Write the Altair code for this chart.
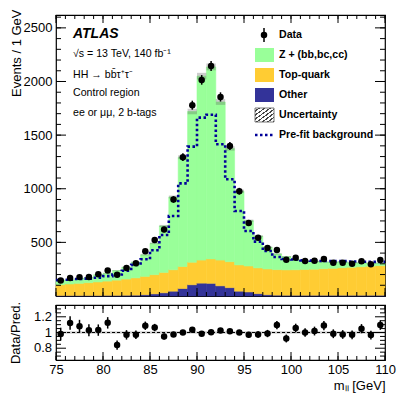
import altair as alt
import pandas as pd
import numpy as np

# ---------------- data ----------------
bin_low = list(range(75, 110))  # 1 GeV bins, 75-110
data_counts = [145, 168, 176, 177, 203, 238, 199, 260, 306, 417, 522, 620, 900, 1294,
               1779, 2015, 2145, 1856, 1399, 977, 681, 544, 448, 429, 339, 357, 326,
               329, 345, 311, 311, 301, 324, 296, 336]
z_hf = [43, 38, 45, 48, 66, 73, 89, 110, 146, 201, 292, 433, 678, 1019, 1405, 1715,
        1790, 1474, 1056, 687, 422, 296, 202, 146, 123, 93, 79, 73, 63, 58, 56, 42, 36,
        28, 24]
top_quark = [100, 107, 113, 119, 126, 133, 142, 151, 161, 171, 179, 190, 200, 205, 210,
             215, 228, 240, 242, 245, 242, 240, 240, 238, 237, 238, 240, 243, 247, 251,
             256, 261, 266, 271, 276]
other = [5, 5, 5, 5, 5, 6, 6, 7, 8, 12, 20, 30, 45, 70, 105, 120, 118, 95, 78, 45, 38,
         22, 12, 8, 7, 7, 7, 7, 7, 7, 7, 7, 7, 7, 7]
prefit_bkg = [148, 152, 158, 162, 170, 185, 200, 235, 290, 342, 426, 569, 746, 1050,
              1393, 1663, 1690, 1415, 1088, 793, 606, 507, 420, 364, 345, 340, 332, 330,
              326, 325, 325, 322, 320, 318, 318]
unc_frac = 0.015

comp_names = ["Z + (bb,bc,cc)", "Top-quark", "Other"]
comp_colors = ["#99FF99", "#FFCC33", "#333399"]

major_x = list(range(75, 111, 5))
minor_x = list(range(75, 111, 1))
major_y_top = [500, 1000, 1500, 2000, 2500]
minor_y_top = list(range(100, 2601, 100))
major_y_ratio = [0.8, 1.0, 1.2]
ratio_labels = ["0.8", "1", "1.2"]
minor_y_ratio = [0.7, 0.75, 0.85, 0.9, 0.95, 1.05, 1.1, 1.15, 1.25, 1.3]

# ---------------- layout constants ----------------
W, H_TOP, H_RAT = 329, 281, 55
Y_MAX = 2620
R_MIN, R_MAX = 0.65, 1.35
FONT = "Liberation Sans"

# ---------------- tables ----------------
df = pd.DataFrame({"lo": bin_low, "data": data_counts, "z": z_hf,
                   "top": top_quark, "other": other})
df["hi"] = df["lo"] + 1
df["mid"] = df["lo"] + 0.5
df["c1"] = df["other"]
df["c2"] = df["other"] + df["top"]
df["total"] = df["c2"] + df["z"]
df["err"] = np.sqrt(df["data"])
df["d_lo"] = df["data"] - df["err"]
df["d_hi"] = df["data"] + df["err"]
df["ratio"] = df["data"] / df["total"]
df["r_lo"] = (df["data"] - df["err"]) / df["total"]
df["r_hi"] = (df["data"] + df["err"]) / df["total"]
df["u_lo"] = df["total"] * (1 - unc_frac)
df["u_hi"] = df["total"] * (1 + unc_frac)
df["ru_lo"] = 1 - unc_frac
df["ru_hi"] = 1 + unc_frac

rows = []
for _, r in df.iterrows():
    rows.append({"comp": "Other", "lo": r.lo, "hi": r.hi, "y0": 0, "y1": r.c1})
    rows.append({"comp": "Top-quark", "lo": r.lo, "hi": r.hi, "y0": r.c1, "y1": r.c2})
    rows.append({"comp": "Z + (bb,bc,cc)", "lo": r.lo, "hi": r.hi, "y0": r.c2, "y1": r.total})
stack_df = pd.DataFrame(rows)

pf_df = pd.DataFrame({"x": bin_low + [110], "y": prefit_bkg + [prefit_bkg[-1]]})
rlab_df = pd.DataFrame({"v": major_y_ratio, "t": ratio_labels})

xscale = alt.Scale(domain=[75, 110], nice=False, zero=False)
yscale = alt.Scale(domain=[0, Y_MAX], nice=False, zero=False)
rscale = alt.Scale(domain=[R_MIN, R_MAX], nice=False, zero=False)
cscale = alt.Scale(domain=comp_names, range=comp_colors)

hatch = alt.Gradient(
    gradient="linear", x1=0, y1=0, x2=1, y2=1,
    stops=[s for k in range(7) for s in (
        alt.GradientStop(offset=k / 7, color="#ffffff"),
        alt.GradientStop(offset=(k + 0.65) / 7, color="#ffffff"),
        alt.GradientStop(offset=(k + 0.65) / 7, color="#444444"),
        alt.GradientStop(offset=(k + 1) / 7, color="#444444"))])

ONE = pd.DataFrame({"a": [0]})


def X(field, top_panel):
    if top_panel:
        return alt.X(field, scale=xscale, axis=None)
    return alt.X(field, scale=xscale)


def frame_ticks(xvals, yvals, xlen, ylen, h, ys, top_panel):
    xt = pd.DataFrame({"v": xvals})
    yt = pd.DataFrame({"v": yvals})
    return [
        alt.Chart(xt).mark_rule(color="black", strokeWidth=1).encode(
            x=X("v:Q", top_panel), y=alt.value(h), y2=alt.value(h - xlen)),
        alt.Chart(xt).mark_rule(color="black", strokeWidth=1).encode(
            x=X("v:Q", top_panel), y=alt.value(0), y2=alt.value(xlen)),
        alt.Chart(yt).mark_rule(color="black", strokeWidth=1).encode(
            y=alt.Y("v:Q", scale=ys), x=alt.value(0), x2=alt.value(ylen)),
        alt.Chart(yt).mark_rule(color="black", strokeWidth=1).encode(
            y=alt.Y("v:Q", scale=ys), x=alt.value(W), x2=alt.value(W - ylen)),
    ]


def label(text, px, py, size=10.6, weight="normal", style="normal"):
    return alt.Chart(ONE).mark_text(
        align="left", baseline="middle", font=FONT, fontSize=size, fontWeight=weight,
        fontStyle=style, color="black", text=text).encode(
        x=alt.value(px), y=alt.value(py))


# ---------------- top panel ----------------
stack = alt.Chart(stack_df).mark_rect(strokeWidth=0.6).encode(
    x=X("lo:Q", True),
    x2="hi:Q",
    y=alt.Y("y0:Q", scale=yscale,
            axis=alt.Axis(values=major_y_top, format="d", title="Events / 1 GeV",
                          titleAnchor="end", titleY=-6, labelPadding=4, titlePadding=0,
                          labelOverlap=False)),
    y2="y1:Q",
    color=alt.Color("comp:N", scale=cscale, legend=None),
    stroke=alt.Stroke("comp:N", scale=cscale, legend=None),
)

band = alt.Chart(df).mark_rect(color="#555555", opacity=0.3).encode(
    x=X("lo:Q", True), x2="hi:Q",
    y=alt.Y("u_lo:Q", scale=yscale), y2="u_hi:Q")

prefit = alt.Chart(pf_df).mark_line(interpolate="step-after", color="#000099",
                                    strokeWidth=2.6, strokeDash=[2.5, 2.5]).encode(
    x=X("x:Q", True),
    y=alt.Y("y:Q", scale=yscale))

derr = alt.Chart(df).mark_rule(color="black", strokeWidth=1.5).encode(
    x=X("mid:Q", True),
    y=alt.Y("d_lo:Q", scale=yscale), y2="d_hi:Q")
dpts = alt.Chart(df).mark_point(filled=True, shape="circle", size=42, color="black",
                                opacity=1).encode(
    x=X("mid:Q", True),
    y=alt.Y("data:Q", scale=yscale))

texts = [
    label("ATLAS", 17, 19, size=14, weight="bold", style="italic"),
    label("√s = 13 TeV, 140 fb⁻¹", 17, 39),
    label("HH → bb̄τ⁺τ⁻", 17, 60),
    label("Control region", 17, 78),
    label("ee or μμ, 2 b-tags", 17, 98),
]

# legend
LX0, LX1, LM, LT = 199, 218, 208, 223
leg_names = ["Data", "Z + (bb,bc,cc)", "Top-quark", "Other", "Uncertainty",
             "Pre-fit background"]
leg_y = [20, 40, 60, 80, 100, 120]
legend = [label(t, LT, yy, weight="bold") for t, yy in zip(leg_names, leg_y)]
for name, col, yy in zip(comp_names, comp_colors, leg_y[1:4]):
    legend.append(alt.Chart(ONE).mark_rect(color=col).encode(
        x=alt.value(LX0), x2=alt.value(LX1), y=alt.value(yy - 7), y2=alt.value(yy + 7)))
legend.append(alt.Chart(ONE).mark_rect(
    fill=hatch, stroke="#555555", strokeWidth=0.8).encode(
    x=alt.value(LX0), x2=alt.value(LX1), y=alt.value(leg_y[4] - 7),
    y2=alt.value(leg_y[4] + 7)))
legend.append(alt.Chart(ONE).mark_rule(
    color="#000099", strokeWidth=2.6, strokeDash=[2.5, 2.5]).encode(
    x=alt.value(LX0), x2=alt.value(LX1), y=alt.value(leg_y[5])))
legend.append(alt.Chart(ONE).mark_rule(color="black", strokeWidth=1.5).encode(
    x=alt.value(LM), y=alt.value(leg_y[0] - 7), y2=alt.value(leg_y[0] + 7)))
legend.append(alt.Chart(ONE).mark_point(
    filled=True, shape="circle", size=42, color="black", opacity=1).encode(
    x=alt.value(LM), y=alt.value(leg_y[0])))

top_layers = [stack, band, prefit, derr, dpts] + texts + legend
top_layers += frame_ticks(minor_x, minor_y_top, 4, 5, H_TOP, yscale, True)
top_layers += frame_ticks(major_x, major_y_top, 8, 10, H_TOP, yscale, True)
top = alt.layer(*top_layers).properties(width=W, height=H_TOP)

# ---------------- ratio panel ----------------
rpts = alt.Chart(df).mark_point(filled=True, shape="circle", size=42, color="black",
                                opacity=1).encode(
    x=alt.X("mid:Q", scale=xscale,
            axis=alt.Axis(values=major_x, format="d", title="mₗₗ [GeV]",
                          titleAnchor="end", labelPadding=3, titlePadding=3,
                          labelOverlap=False, labelFlush=False)),
    y=alt.Y("ratio:Q", scale=rscale,
            axis=alt.Axis(labels=False, title="Data/Pred.", titleAnchor="middle",
                          titlePadding=34)))
rband = alt.Chart(df).mark_rect(color="#555555", opacity=0.3).encode(
    x=alt.X("lo:Q", scale=xscale), x2="hi:Q",
    y=alt.Y("ru_lo:Q", scale=rscale), y2="ru_hi:Q")
rline = alt.Chart(pd.DataFrame({"one": [1.0]})).mark_rule(
    color="black", strokeWidth=1, strokeDash=[3, 2]).encode(
    y=alt.Y("one:Q", scale=rscale))
rerr = alt.Chart(df).mark_rule(color="black", strokeWidth=1.5).encode(
    x=alt.X("mid:Q", scale=xscale),
    y=alt.Y("r_lo:Q", scale=rscale), y2="r_hi:Q")
rlabels = alt.Chart(rlab_df).mark_text(
    align="right", baseline="middle", font=FONT, fontSize=13, color="black").encode(
    y=alt.Y("v:Q", scale=rscale), x=alt.value(-4), text="t:N")

rat_layers = [rband, rline, rerr, rpts, rlabels]
rat_layers += frame_ticks(minor_x, minor_y_ratio, 4, 5, H_RAT, rscale, False)
rat_layers += frame_ticks(major_x, major_y_ratio, 8, 10, H_RAT, rscale, False)
ratio = alt.layer(*rat_layers).properties(width=W, height=H_RAT)

chart = alt.vconcat(top, ratio, spacing=9, bounds="flush").properties(
    padding={"left": 0, "top": 0, "right": 5, "bottom": 0}
).configure_view(stroke="black", strokeWidth=1.2).configure_axis(
    domain=False, ticks=False, grid=False, labelOverlap=False,
    labelFont=FONT, labelFontSize=13, labelColor="black",
    titleFont=FONT, titleFontSize=13, titleFontWeight="normal", titleColor="black")

chart.save("out.html", embed_options={"renderer": "svg", "actions": False})
